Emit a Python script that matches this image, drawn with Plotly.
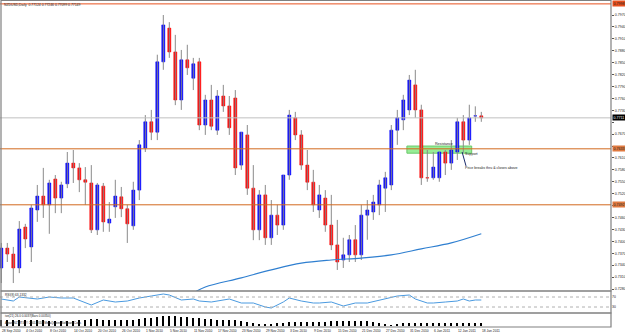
import plotly.graph_objects as go
import pandas as pd

# ---------------- data ----------------
dates = pd.bdate_range("2010-09-28", "2011-01-18")
date_labels = [f"{d.day} {d.strftime('%b')} {d.year}" for d in dates]

opens = [0.7333, 0.7383, 0.7368, 0.7333, 0.7436, 0.7386, 0.7479, 0.7514, 0.7492, 0.7557,
         0.7509, 0.7545, 0.7597, 0.7585, 0.7555, 0.7547, 0.7429, 0.7539, 0.7446, 0.7487,
         0.7512, 0.7482, 0.7439, 0.7529, 0.7635, 0.7701, 0.7675, 0.7852, 0.7937, 0.7877,
         0.7756, 0.7857, 0.7811, 0.7852, 0.7693, 0.7756, 0.7680, 0.7766, 0.7741, 0.7761,
         0.7592, 0.7668, 0.7534, 0.7429, 0.7517, 0.7409, 0.7466, 0.7441, 0.7567, 0.7711,
         0.7668, 0.7592, 0.7549, 0.7479, 0.7509, 0.7441, 0.7391, 0.7353, 0.7366, 0.7404,
         0.7366, 0.7466, 0.7474, 0.7492, 0.7534, 0.7542, 0.7680, 0.7706, 0.7731, 0.7794,
         0.7731, 0.7560, 0.7560, 0.7560, 0.7625, 0.7597, 0.7625, 0.7701, 0.7655, 0.7716,
         0.7716]
highs = [0.7396, 0.7396, 0.7386, 0.7451, 0.7444, 0.7492, 0.7542, 0.7585, 0.7555, 0.7567,
         0.7550, 0.7625, 0.7630, 0.7597, 0.7587, 0.7592, 0.7547, 0.7547, 0.7499, 0.7555,
         0.7537, 0.7492, 0.7550, 0.7655, 0.7718, 0.7731, 0.7870, 0.7970, 0.7952, 0.7920,
         0.7882, 0.7895, 0.7862, 0.7862, 0.7769, 0.7794, 0.7781, 0.7794, 0.7766, 0.7781,
         0.7675, 0.7693, 0.7592, 0.7529, 0.7542, 0.7504, 0.7492, 0.7567, 0.7731, 0.7726,
         0.7680, 0.7630, 0.7580, 0.7542, 0.7529, 0.7517, 0.7454, 0.7409, 0.7416, 0.7441,
         0.7492, 0.7504, 0.7517, 0.7555, 0.7575, 0.7693, 0.7731, 0.7769, 0.7819, 0.7832,
         0.7744, 0.7630, 0.7625, 0.7625, 0.7630, 0.7655, 0.7711, 0.7718, 0.7744, 0.7740,
         0.7726]
lows = [0.7295, 0.7348, 0.7295, 0.7320, 0.7383, 0.7348, 0.7449, 0.7459, 0.7419, 0.7471,
        0.7471, 0.7534, 0.7547, 0.7524, 0.7492, 0.7421, 0.7416, 0.7424, 0.7424, 0.7459,
        0.7461, 0.7396, 0.7429, 0.7504, 0.7625, 0.7655, 0.7655, 0.7832, 0.7862, 0.7743,
        0.7731, 0.7819, 0.7781, 0.7680, 0.7668, 0.7680, 0.7668, 0.7726, 0.7668, 0.7567,
        0.7580, 0.7517, 0.7403, 0.7403, 0.7391, 0.7391, 0.7416, 0.7429, 0.7555, 0.7655,
        0.7580, 0.7529, 0.7474, 0.7459, 0.7424, 0.7378, 0.7328, 0.7333, 0.7348, 0.7348,
        0.7353, 0.7404, 0.7454, 0.7466, 0.7474, 0.7529, 0.7643, 0.7680, 0.7718, 0.7711,
        0.7542, 0.7550, 0.7555, 0.7550, 0.7567, 0.7580, 0.7605, 0.7623, 0.7643, 0.7701,
        0.7701]
closes = [0.7383, 0.7368, 0.7333, 0.7431, 0.7406, 0.7484, 0.7514, 0.7492, 0.7547, 0.7509,
          0.7542, 0.7597, 0.7585, 0.7555, 0.7549, 0.7429, 0.7542, 0.7449, 0.7456, 0.7514,
          0.7482, 0.7444, 0.7529, 0.7643, 0.7701, 0.7675, 0.7852, 0.7945, 0.7877, 0.7756,
          0.7857, 0.7837, 0.7847, 0.7693, 0.7756, 0.7690, 0.7766, 0.7741, 0.7686, 0.7585,
          0.7675, 0.7534, 0.7429, 0.7517, 0.7409, 0.7466, 0.7441, 0.7567, 0.7718, 0.7668,
          0.7592, 0.7549, 0.7492, 0.7517, 0.7441, 0.7391, 0.7348, 0.7366, 0.7404, 0.7366,
          0.7466, 0.7479, 0.7499, 0.7542, 0.7560, 0.7680, 0.7711, 0.7756, 0.7806, 0.7731,
          0.7560, 0.7560, 0.7587, 0.7625, 0.7597, 0.7630, 0.7701, 0.7655, 0.7711, 0.7716,
          0.7711]

ma_idx = [32, 34, 40, 45, 50, 55, 60, 65, 70, 75, 80]
ma_val = [0.7270, 0.7285, 0.7308, 0.7328, 0.7345, 0.7353, 0.7358, 0.7366, 0.7381, 0.7396, 0.7419]

rsi_x = [0, 2, 3, 6, 8, 10, 12, 15, 17, 19, 21, 23, 25, 27, 28, 30, 32, 33, 35, 37, 38, 40,
         42, 44, 45, 47, 48, 50, 52, 53, 55, 57, 59, 61, 63, 66, 68, 69, 71, 72, 74, 76, 77, 78, 79, 80]
rsi_y = [62, 54, 70, 62, 70, 66, 66, 38, 58, 50, 54, 66, 74, 82, 78, 58, 62, 54, 50, 58, 62, 46,
         46, 30, 26, 50, 66, 54, 46, 46, 50, 34, 46, 46, 58, 74, 78, 62, 46, 46, 50, 54, 62, 54, 58, 58]

hist = [6, 6, 6, 6, 6, 6, 6, 6, 5, 5, 5, 5, 5, 6, 6, 7, 7, 6, 6, 6, 6, 6, 6, 7, 8, 8, 9, 10, 10, 10,
        9, 9, 8, 8, 7, 7, 6, 6, 6, 6, 5, 4, 3, 2, 2, 2, 3, 3, 4, 4, 4, 4, 4, 4, 4, 5, 5, 5, 5, 5,
        5, 5, 4, 3, 2, 1, 2, 3, 3, 3, 3, 3, 3, 3, 3, 3, 3, 3, 3, 3, 3]

price_ticks = [round(0.7280 + 0.003 * k, 4) for k in range(24)]
level_top = 0.7998
level_mid = 0.7633
level_low = 0.7492
last_price = 0.7711

title_text = "NZDUSD,Daily  0.77124 0.77246 0.77099 0.77149"
rsi_text = "RSI(8) 63.1332"
ind_text = "ive(21) 26.0 0.0037(Bars 0.00350)"
copy_text = "Alpari NZ MT4, \u00a9 2001-2010 MetaQuotes Software Corp."

# ---------------- figure ----------------
W, H = 625, 334
PX = 611  # right edge of plot in px

def py(p):  # pixel-from-top to paper y
    return 1 - p / H

x_idx = list(range(len(opens)))
body_hi = [max(o, c) for o, c in zip(opens, closes)]
body_lo = [min(o, c) for o, c in zip(opens, closes)]

fig = go.Figure()

wx, wy = [], []
for i, (h, l) in enumerate(zip(highs, lows)):
    wx += [i, i, None]
    wy += [h, l, None]
fig.add_trace(go.Scatter(x=wx, y=wy, mode="lines", line=dict(color="#8a8a8a", width=1),
                         xaxis="x", yaxis="y", showlegend=False, hoverinfo="skip"))

fig.add_trace(go.Candlestick(
    x=x_idx, open=opens, high=body_hi, low=body_lo, close=closes,
    increasing=dict(line=dict(color="#0000ff", width=0.6), fillcolor="#0000ff"),
    decreasing=dict(line=dict(color="#ff0000", width=0.6), fillcolor="#ff0000"),
    whiskerwidth=0, xaxis="x", yaxis="y", showlegend=False, hoverinfo="skip"))

fig.add_trace(go.Scatter(x=ma_idx, y=ma_val, mode="lines",
                         line=dict(color="#2f7fd0", width=1.2, shape="spline"),
                         xaxis="x", yaxis="y", showlegend=False, hoverinfo="skip"))

fig.add_trace(go.Scatter(x=rsi_x, y=rsi_y, mode="lines",
                         line=dict(color="#4a9ae0", width=1),
                         xaxis="x", yaxis="y2", showlegend=False, hoverinfo="skip"))

fig.add_trace(go.Bar(x=x_idx, y=hist, width=0.22, marker=dict(color="#000000", line=dict(width=0)),
                     xaxis="x", yaxis="y3", showlegend=False, hoverinfo="skip"))

levels = [level_top, level_mid, level_low, last_price]
tick_text = []
for v in price_ticks:
    near = any(abs(v - L) < 0.0012 for L in levels)
    tick_text.append("" if near else f"{v:.4f}")

r0 = -1.3 / 6
r1 = r0 + PX / 6
fig.update_layout(
    width=W, height=H, margin=dict(l=0, r=0, t=0, b=0),
    paper_bgcolor="white", plot_bgcolor="white",
    font=dict(family="Liberation Sans", size=3.5, color="#222"),
    xaxis=dict(domain=[0, PX / W], range=[r0, r1], showgrid=False, zeroline=False,
               showticklabels=False, ticks="", rangeslider=dict(visible=False), fixedrange=True),
    yaxis=dict(domain=[py(291), py(1)], range=[0.7970 - (291 - 15) * 0.003 / 11.913,
                                               0.7970 + 14 * 0.003 / 11.913],
               side="right", tickvals=price_ticks, ticktext=tick_text,
               ticks="outside", ticklen=2, tickcolor="#555", showgrid=False, zeroline=False,
               tickfont=dict(size=3.6), automargin=False),
    yaxis2=dict(domain=[py(312), py(292)], range=[10, 90], side="right",
                tickvals=[70, 30], ticktext=["70", "30"], ticks="", showgrid=False,
                zeroline=False, tickfont=dict(size=3.4), automargin=False),
    yaxis3=dict(domain=[py(326), py(314)], range=[0, 12], side="right",
                showticklabels=False, showgrid=False, zeroline=False, automargin=False),
    bargap=0,
)

shapes = []
xr = PX / W
for lvl, col in [(level_top, "#e8501e"), (level_mid, "#d2691e"), (level_low, "#d2691e")]:
    shapes.append(dict(type="line", xref="paper", yref="y", x0=0, x1=xr, y0=lvl, y1=lvl,
                       line=dict(color=col, width=1)))
shapes.append(dict(type="line", xref="paper", yref="y", x0=0, x1=xr, y0=last_price, y1=last_price,
                   line=dict(color="#c0c0c0", width=1)))
for lv in (70, 30):
    shapes.append(dict(type="line", xref="paper", yref="y2", x0=0, x1=xr, y0=lv, y1=lv,
                       line=dict(color="#b0b0b0", width=1, dash="dot")))
for top, bot in [(0.5, 291), (291, 313), (313, 327)]:
    shapes.append(dict(type="rect", xref="paper", yref="paper", x0=1 / W, x1=xr,
                       y0=py(bot), y1=py(top), line=dict(color="#808080", width=1.2)))
shapes.append(dict(type="rect", xref="x", yref="y", x0=67.6, x1=78.4, y0=0.7622, y1=0.7640,
                   fillcolor="rgba(140,235,140,0.9)", line=dict(color="#6cc86c", width=1),
                   layer="below"))
shapes.append(dict(type="line", xref="x", yref="y", x0=76.8, x1=77.45, y0=0.7625, y1=0.7590,
                   line=dict(color="#1a2a6a", width=1)))
fig.update_layout(shapes=shapes)

ann = []
ann.append(dict(text=title_text, xref="paper", yref="paper", x=2 / W, y=py(5), xanchor="left",
                yanchor="middle", showarrow=False, font=dict(size=3.4)))
ann.append(dict(text=rsi_text, xref="paper", yref="paper", x=3 / W, y=py(295), xanchor="left",
                yanchor="middle", showarrow=False, font=dict(size=3.2)))
ann.append(dict(text=ind_text, xref="paper", yref="paper", x=3 / W, y=py(315.5), xanchor="left",
                yanchor="middle", showarrow=False, font=dict(size=3.0)))
ann.append(dict(text=copy_text, xref="paper", yref="paper", x=3 / W, y=py(322.5), xanchor="left",
                yanchor="middle", showarrow=False, font=dict(size=3.0)))
for i in range(0, len(date_labels), 4):
    ann.append(dict(text=date_labels[i], xref="x", yref="paper", x=i - 0.2, y=py(330.5),
                    xanchor="left", yanchor="middle", showarrow=False, font=dict(size=3.3)))
for lvl, bg, fc in [(level_top, "#e8501e", "#222"), (level_mid, "#e07a40", "#222"),
                    (level_low, "#e07a40", "#222"), (last_price, "#000000", "#ffffff")]:
    ann.append(dict(text=f"{lvl:.4f}", xref="paper", yref="y", x=xr + 1 / W, y=lvl,
                    xanchor="left", yanchor="middle", showarrow=False, bgcolor=bg,
                    borderpad=0.5, font=dict(size=3.6, color=fc)))
ann.append(dict(text="Resistance", xref="x", yref="y", x=71.95, y=0.7644, xanchor="left",
                yanchor="middle", showarrow=False, font=dict(size=3.6)))
ann.append(dict(text="Support", xref="x", yref="y", x=77.0, y=0.7621, xanchor="left",
                yanchor="middle", showarrow=False, font=dict(size=3.6)))
ann.append(dict(text="Price breaks thru &amp; closes above", xref="x", yref="y", x=77.0, y=0.7585,
                xanchor="left", yanchor="middle", showarrow=False, font=dict(size=3.6)))
fig.update_layout(annotations=ann)

fig.write_html("out.html")
